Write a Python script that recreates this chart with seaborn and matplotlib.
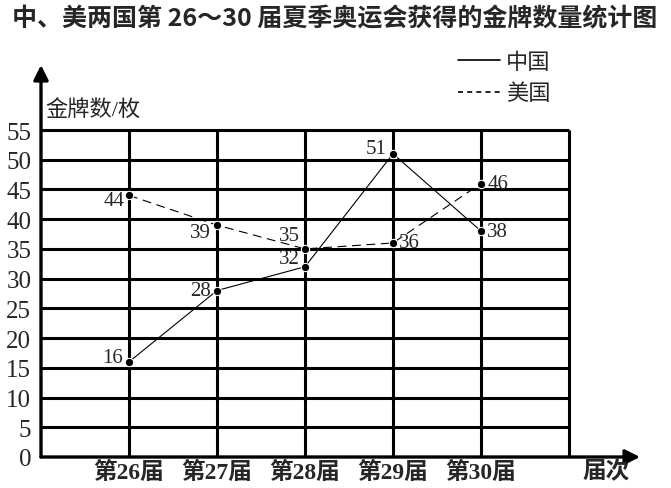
import numpy as np
import pandas as pd
import matplotlib
matplotlib.use("Agg")
import matplotlib.pyplot as plt
import seaborn as sns

# 数据
editions = ["第26届", "第27届", "第28届", "第29届", "第30届"]
china = [16, 28, 32, 51, 38]
usa = [44, 39, 35, 36, 46]
y_ticks = list(range(0, 60, 5))

# 标注偏移 (points)
china_off = [(-12, 3), (-12, 0), (-11, 6), (-12, 4), (12, 0)]
usa_off = [(-11, -4), (-12, -5), (-11, 10), (12, 0), (12, 0)]

sns.set_style("white")
plt.rcParams["font.family"] = ["Liberation Serif", "Noto Sans CJK SC"]
plt.rcParams["axes.unicode_minus"] = False

W, H = 671, 489
fig = plt.figure(figsize=(W / 100, H / 100), dpi=100)
# 坐标原点 (41, 458) px, 每届 88 px, 每 5 枚 29.7 px
ax = fig.add_axes([41 / W, (H - 458) / H, (640 - 41) / W, (458 - 66) / H])
ux = 88.0
uy = (458 - 131) / 55.0
ax.set_xlim(0, (640 - 41) / ux)
ax.set_ylim(0, (458 - 66) / uy)
for s in ax.spines.values():
    s.set_visible(False)

x = np.arange(1, len(editions) + 1)
df = pd.DataFrame({
    "pos": np.concatenate([x, x]),
    "金牌数": china + usa,
    "国家": ["中国"] * len(x) + ["美国"] * len(x),
})

# 网格
ax.hlines(y_ticks[1:], 0, 6, colors="black", lw=2.2, zorder=1)
ax.vlines(list(x) + [6], 0, 55, colors="black", lw=2.2, zorder=1)

# 坐标轴箭头
ax.annotate("", xy=(0, ax.get_ylim()[1]), xytext=(0, 0),
            arrowprops=dict(arrowstyle="-|>", lw=2.4, color="black",
                            mutation_scale=22, shrinkA=0, shrinkB=0), zorder=3)
ax.annotate("", xy=(ax.get_xlim()[1], 0), xytext=(0, 0),
            arrowprops=dict(arrowstyle="-|>", lw=2.4, color="black",
                            mutation_scale=22, shrinkA=0, shrinkB=0), zorder=3)

sns.lineplot(data=df, x="pos", y="金牌数", style="国家", color="black",
             markers={"中国": "o", "美国": "o"},
             dashes={"中国": "", "美国": (8, 5)},
             lw=0.8, markersize=6, ax=ax, legend=False, zorder=4)

for xi, v, (dx, dy) in zip(x, china, china_off):
    ax.annotate(str(v), (xi, v), xytext=(dx, dy), textcoords="offset points",
                ha="center", va="center", fontsize=15, zorder=5)
for xi, v, (dx, dy) in zip(x, usa, usa_off):
    ax.annotate(str(v), (xi, v), xytext=(dx, dy), textcoords="offset points",
                ha="center", va="center", fontsize=15, zorder=5)

ax.set_xticks(x)
ax.set_xticklabels(editions, fontsize=17, fontweight="bold")
ax.set_yticks(y_ticks)
ax.set_yticklabels([str(t) for t in y_ticks], fontsize=18)
ax.tick_params(length=0)
ax.tick_params(axis="y", pad=7)
ax.tick_params(axis="x", pad=3)
ax.set_xlabel("")
ax.set_ylabel("")

ax.text(0.05, 58.4, "金牌数/枚", fontsize=16, ha="left", va="center")
ax.text(6.42, -2.4, "届次", fontsize=17, fontweight="bold", ha="center",
        va="center", clip_on=False)

# 图例
h1, = ax.plot([], [], color="black", lw=1.2)
h2, = ax.plot([], [], color="black", lw=1.2, ls=(0, (3, 2.5)))
ax.legend([h1, h2], ["中国", "美国"], loc="upper left",
          bbox_to_anchor=(458 / W, 1 - 53 / H), bbox_transform=fig.transFigure,
          frameon=False, fontsize=16, handlelength=1.9, handletextpad=0.25,
          labelspacing=0.5, borderpad=0, borderaxespad=0)

fig.text(335 / W, 1 - 19 / H, "中、美两国第 26～30 届夏季奥运会获得的金牌数量统计图",
         ha="center", va="center", fontsize=18, fontweight="bold",
         family=["Noto Sans CJK SC"])

fig.savefig("out.png", dpi=100)
